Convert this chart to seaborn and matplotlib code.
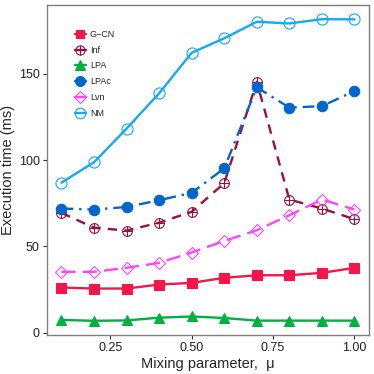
import numpy as np
import pandas as pd
import seaborn as sns
import matplotlib.pyplot as plt
from matplotlib.lines import Line2D

sns.set_theme(style="white")
plt.rcParams['font.family'] = ['Liberation Sans', 'DejaVu Sans']

mu = [0.1, 0.2, 0.3, 0.4, 0.5, 0.6, 0.7, 0.8, 0.9, 1.0]
gcn = [26.1, 25.5, 25.5, 27.8, 28.8, 31.7, 33.2, 33.2, 34.6, 37.5]
inf = [69.4, 60.8, 59.1, 63.7, 70.0, 86.6, 145.4, 77.1, 71.9, 65.7]
lpa = [7.3, 6.8, 7.0, 8.6, 9.3, 8.4, 6.9, 6.9, 6.9, 6.9]
lpac = [71.9, 71.3, 72.8, 76.7, 81.0, 95.2, 142.2, 130.4, 131.3, 140.0]
lvn = [35.2, 35.2, 37.5, 40.4, 46.4, 53.1, 59.3, 68.0, 77.1, 71.3]
nm = [86.9, 98.7, 118.2, 138.7, 162.2, 170.6, 180.2, 179.2, 181.7, 181.6]

names = ['G\u2212CN', 'Inf', 'LPA', 'LPAc', 'Lvn', 'NM']
values = [gcn, inf, lpa, lpac, lvn, nm]
colors = ['#F2164B', '#99103F', '#00B140', '#0066CC', '#FF44FF', '#14A8F5']
styles = [
    dict(ls='-', marker='s', filled=True, ms=6.5),
    dict(ls=(0, (4, 3)), marker='o', filled=False, ms=7),
    dict(ls='-', marker='^', filled=True, ms=7.5),
    dict(ls=(0, (5, 2.5, 1, 2.5)), marker='o', filled=True, ms=7.5),
    dict(ls=(0, (6, 3)), marker='D', filled=False, ms=6),
    dict(ls='-', marker='o', filled=False, ms=8),
]

fig = plt.figure(figsize=(3.74, 3.74), dpi=100)
ax = fig.add_axes([0.125, 0.104, 0.862, 0.883])

handles = []
for name, vals, col, st in zip(names, values, colors, styles):
    df = pd.DataFrame({'mu': mu, 'time': vals})
    fc = col if st['filled'] else 'none'
    sns.lineplot(data=df, x='mu', y='time', ax=ax, color=col, linestyle=st['ls'],
                 linewidth=1.7, marker=st['marker'], markersize=st['ms'],
                 markerfacecolor=fc, markeredgecolor=col, markeredgewidth=0.8,
                 legend=False)
    h = Line2D([], [], color=col, linestyle='-', linewidth=1.7, marker=st['marker'],
               markersize=st['ms'] * 0.95, markerfacecolor=fc, markeredgecolor=col,
               markeredgewidth=0.8)
    if name == 'Inf':
        ax.plot(mu, vals, linestyle='none', marker='+', markersize=7,
                markeredgewidth=0.8, color=col)
        h = (h, Line2D([], [], linestyle='none', marker='+', markersize=7,
                       markeredgewidth=0.8, color=col))
    handles.append(h)

ax.legend(handles, names, loc='upper left', bbox_to_anchor=(0.075, 0.935), frameon=False,
          fontsize=6.5, handlelength=1.3, labelspacing=0.75, handletextpad=0.4,
          borderaxespad=0)

ax.set_xlim(0.055, 1.045)
ax.set_ylim(-1.5, 190)
ax.set_xticks([0.25, 0.5, 0.75, 1.0])
ax.set_xticklabels(['0.25', '0.50', '0.75', '1.00'])
ax.set_yticks([0, 50, 100, 150])
ax.tick_params(axis='both', labelsize=9, length=3, width=0.8, color='#333333',
               labelcolor='#222222', pad=2, bottom=True, left=True)
for s in ax.spines.values():
    s.set_color('#7f7f7f')
    s.set_linewidth(1.0)
ax.set_xlabel('Mixing parameter,  \u03bc', fontsize=10.5, labelpad=2)
ax.set_ylabel('Execution time (ms)', fontsize=10.5, labelpad=3)

fig.savefig('out.png', dpi=100)
